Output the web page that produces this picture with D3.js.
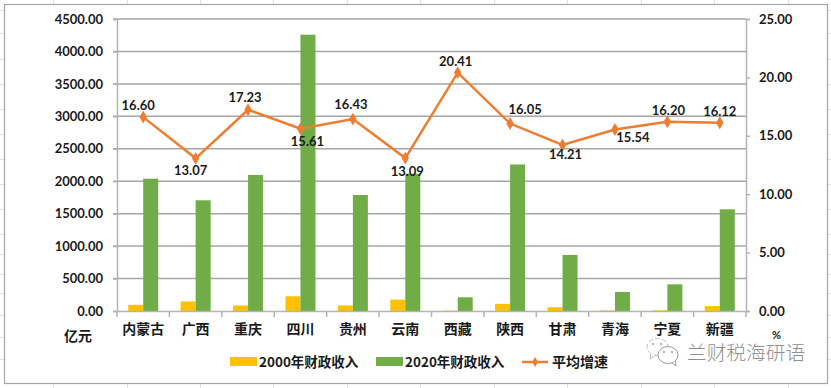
<!DOCTYPE html>
<html>
<head>
<meta charset="utf-8">
<script src="https://cdn.jsdelivr.net/npm/d3@7"></script>
<style>
  html, body { margin: 0; padding: 0; background: #fff; }
  svg { display: block; }
  text { fill: #1a1a1a; }
  .num { font-family: Lato, "Open Sans", sans-serif; font-weight: 700; font-size: 13px; }
  .cjk { font-family: "Noto Sans CJK SC", sans-serif; font-weight: 700; font-size: 14px; }
  .legend { font-size: 13.5px; }
</style>
</head>
<body>
<div id="app"></div>
<script>
const provinces = ["内蒙古", "广西", "重庆", "四川", "贵州", "云南", "西藏", "陕西", "甘肃", "青海", "宁夏", "新疆"];
const revenue2000 = [95, 147, 85, 227, 85, 175, 5, 110, 58, 8, 10, 75];
const revenue2020 = [2039, 1706, 2096, 4258, 1788, 2116, 211, 2258, 863, 293, 411, 1567];
const growth = [16.60, 13.07, 17.23, 15.61, 16.43, 13.09, 20.41, 16.05, 14.21, 15.54, 16.20, 16.12];
const growthLabels = ["16.60", "13.07", "17.23", "15.61", "16.43", "13.09", "20.41", "16.05", "14.21", "15.54", "16.20", "16.12"];
const leftTicks = [0, 500, 1000, 1500, 2000, 2500, 3000, 3500, 4000, 4500];
const rightTicks = [0, 5, 10, 15, 20, 25];
const seriesNames = ["2000年财政收入", "2020年财政收入", "平均增速"];

const colors = { y2000: "#ffc000", y2020: "#70ad47", line: "#ed7d31" };

const width = 831, height = 388;
const margin = { top: 19, right: 85, bottom: 77, left: 117 };

// hand placed data labels, same as the excel chart
const labelDx = [-5, -5, -3, 7, -2, 2, -2, 15, 3, 18, 1, 0];
const labelDy = [-7, 17, -8, 17, -10, 18, -7, -10, 14, 13, -7, -7];

const svg = d3.select("#app").append("svg")
  .attr("width", width)
  .attr("height", height);

// spreadsheet cells showing behind the pasted chart
const sheetCols = [53, 127, 200, 273, 347, 420, 494, 567, 641, 714, 788];
const sheetRows = [10, 33, 59, 84, 109, 134, 159, 184, 209, 234, 254, 274, 293, 315, 337, 359];
svg.selectAll(".sheet-col").data(sheetCols).enter().append("line")
  .attr("x1", d => d + 0.5).attr("x2", d => d + 0.5).attr("y1", 0).attr("y2", height)
  .attr("stroke", "#e2e2e2");
svg.selectAll(".sheet-row").data(sheetRows).enter().append("line")
  .attr("x1", 0).attr("x2", width).attr("y1", d => d + 0.5).attr("y2", d => d + 0.5)
  .attr("stroke", "#e2e2e2");

svg.append("rect")
  .attr("x", 4.5).attr("y", 4.5)
  .attr("width", 823).attr("height", 379)
  .attr("fill", "#fff").attr("stroke", "#a6a6a6").attr("stroke-width", 1.2);

const x = d3.scaleBand()
  .domain(provinces)
  .range([margin.left, width - margin.right]);

const xSeries = d3.scaleBand()
  .domain(["y2000", "y2020"])
  .range([x.bandwidth() / 2 - 15, x.bandwidth() / 2 + 15]);

const yLeft = d3.scaleLinear().domain([0, 4500]).range([height - margin.bottom, margin.top]);
const yRight = d3.scaleLinear().domain([0, 25]).range([height - margin.bottom, margin.top]);

// gridlines
svg.append("g").selectAll("line").data(leftTicks.slice(1)).enter().append("line")
  .attr("x1", margin.left - 4).attr("x2", width - margin.right)
  .attr("y1", d => yLeft(d)).attr("y2", d => yLeft(d))
  .attr("stroke", "#a6a6a6").attr("stroke-width", 1.5);

// bars
const barGroups = svg.append("g").selectAll("g").data(provinces).enter().append("g")
  .attr("transform", d => `translate(${x(d)},0)`);
barGroups.append("rect")
  .attr("x", xSeries("y2000")).attr("width", xSeries.bandwidth())
  .attr("y", (d, i) => yLeft(revenue2000[i]))
  .attr("height", (d, i) => yLeft(0) - yLeft(revenue2000[i]))
  .attr("fill", colors.y2000);
barGroups.append("rect")
  .attr("x", xSeries("y2020")).attr("width", xSeries.bandwidth())
  .attr("y", (d, i) => yLeft(revenue2020[i]))
  .attr("height", (d, i) => yLeft(0) - yLeft(revenue2020[i]))
  .attr("fill", colors.y2020);

// axes
const axisLeft = svg.append("g")
  .attr("transform", `translate(${margin.left},0)`)
  .call(d3.axisLeft(yLeft).tickValues(leftTicks).tickFormat(d3.format(".2f")).tickSize(4).tickPadding(10));
const axisRight = svg.append("g")
  .attr("transform", `translate(${width - margin.right},0)`)
  .call(d3.axisRight(yRight).tickValues(rightTicks).tickFormat(d3.format(".2f")).tickSize(4).tickPadding(9));
const axisBottom = svg.append("g")
  .attr("transform", `translate(0,${height - margin.bottom})`)
  .call(d3.axisBottom(x).tickSize(0).tickPadding(13));

[axisLeft, axisRight].forEach(a => {
  a.selectAll("text").attr("class", "num").attr("fill", null);
  a.selectAll("path,line").attr("stroke", "#b3b3b3").attr("stroke-width", 1.5);
});
axisBottom.select("path").attr("stroke", "#b3b3b3").attr("stroke-width", 1.5);
axisBottom.selectAll("text").attr("class", "cjk").attr("fill", null);
axisBottom.selectAll(".sep").data(d3.range(provinces.length + 1)).enter().append("line")
  .attr("x1", i => margin.left + i * x.step()).attr("x2", i => margin.left + i * x.step())
  .attr("y1", 0).attr("y2", 6)
  .attr("stroke", "#b3b3b3").attr("stroke-width", 1.5);

// growth line
const cx = d => x(d) + x.bandwidth() / 2;
const lineGen = d3.line().x(d => cx(d)).y((d, i) => yRight(growth[i]));
svg.append("path").datum(provinces)
  .attr("d", lineGen)
  .attr("fill", "none").attr("stroke", colors.line).attr("stroke-width", 2.5);
const diamond = d3.symbol().type(d3.symbolDiamond).size(48);
svg.append("g").selectAll("path").data(provinces).enter().append("path")
  .attr("d", diamond)
  .attr("transform", (d, i) => `translate(${cx(d)},${yRight(growth[i])})`)
  .attr("fill", colors.line);
svg.append("g").selectAll("text").data(provinces).enter().append("text")
  .attr("class", "num")
  .attr("text-anchor", "middle")
  .attr("x", (d, i) => cx(d) + labelDx[i])
  .attr("y", (d, i) => yRight(growth[i]) + labelDy[i])
  .text((d, i) => growthLabels[i]);

// unit labels
svg.append("text").attr("class", "cjk").attr("x", 64).attr("y", 341).text("亿元");
svg.append("text").attr("class", "num").attr("x", 772).attr("y", 339).style("font-size", "11px").text("%");

// legend
const legendY = 362;
svg.append("rect").attr("x", 230).attr("y", legendY - 5).attr("width", 27).attr("height", 9).attr("fill", colors.y2000);
svg.append("text").attr("class", "cjk legend").attr("x", 259).attr("y", legendY + 5).text(seriesNames[0]);
svg.append("rect").attr("x", 376).attr("y", legendY - 5).attr("width", 27).attr("height", 9).attr("fill", colors.y2020);
svg.append("text").attr("class", "cjk legend").attr("x", 405).attr("y", legendY + 5).text(seriesNames[1]);
svg.append("line").attr("x1", 522).attr("x2", 548).attr("y1", legendY).attr("y2", legendY)
  .attr("stroke", colors.line).attr("stroke-width", 2.5);
svg.append("path").attr("d", d3.symbol().type(d3.symbolDiamond).size(30))
  .attr("transform", `translate(535,${legendY})`).attr("fill", colors.line);
svg.append("text").attr("class", "cjk").attr("x", 552).attr("y", legendY + 5).text(seriesNames[2]);

// watermark
const mark = svg.append("g").attr("fill", "#fff").attr("stroke", "#8f8f8f").attr("stroke-width", 0.9);
mark.append("ellipse").attr("cx", 657.5).attr("cy", 347).attr("rx", 10.5).attr("ry", 8.5)
  .attr("stroke", "#b5b5b5").attr("stroke-dasharray", "5 2");
mark.append("path").attr("d", "M651,354 L650,359 L656,355").attr("stroke", "#b5b5b5");
mark.append("ellipse").attr("cx", 668).attr("cy", 355).attr("rx", 10).attr("ry", 8.5);
mark.append("path").attr("d", "M672,363 L676,366 L675,361");
mark.selectAll(".eye").data([[664, 352], [672, 352], [653, 344], [661, 344]]).enter().append("circle")
  .attr("cx", d => d[0]).attr("cy", d => d[1]).attr("r", 0.9)
  .attr("fill", "#8f8f8f").attr("stroke", "none");
svg.append("text")
  .attr("x", 687).attr("y", 360)
  .attr("font-family", "'Noto Sans CJK SC', sans-serif")
  .attr("font-size", 19.7).attr("font-weight", 300)
  .style("fill", "#8f8f8f")
  .text("兰财税海研语");
</script>
</body>
</html>
